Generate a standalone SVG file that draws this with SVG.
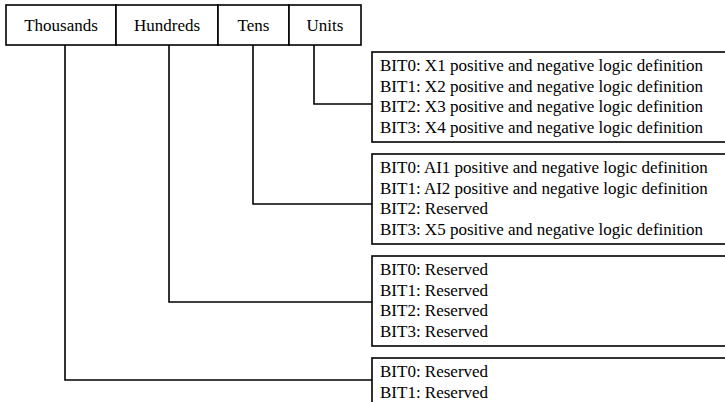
<svg xmlns="http://www.w3.org/2000/svg" width="725" height="402" viewBox="0 0 725 402">
<style>
  text { font-family: "Liberation Serif", "Times New Roman", serif; font-size: 17px; fill: #000; }
  .hdr { text-anchor: middle; }
  .cell { fill: #fff; stroke: #000; stroke-width: 1.6; }
  .box { fill: #fff; stroke: #000; stroke-width: 1.6; }
  .conn { fill: none; stroke: #000; stroke-width: 1.6; }
</style>
<rect width="725" height="402" fill="#fff"/>
<g id="header">
  <g id="thousands"><rect class="cell" x="6" y="5" width="110" height="40"/><text class="hdr" x="61" y="31">Thousands</text></g>
  <g id="hundreds"><rect class="cell" x="116" y="5" width="102" height="40"/><text class="hdr" x="167" y="31">Hundreds</text></g>
  <g id="tens"><rect class="cell" x="218" y="5" width="71" height="40"/><text class="hdr" x="253.5" y="31">Tens</text></g>
  <g id="units"><rect class="cell" x="289" y="5" width="72" height="40"/><text class="hdr" x="325" y="31">Units</text></g>
</g>
<g id="connectors">
  <polyline class="conn" points="314,45 314,104 372,104"/>
  <polyline class="conn" points="253,45 253,204 372,204"/>
  <polyline class="conn" points="169,45 169,302 372,302"/>
  <polyline class="conn" points="65,45 65,380 372,380"/>
</g>
<g id="units-bits">
  <rect class="box" x="372" y="52" width="360" height="90"/>
  <text x="380" y="71">BIT0: X1 positive and negative logic definition</text>
  <text x="380" y="91.5">BIT1: X2 positive and negative logic definition</text>
  <text x="380" y="112">BIT2: X3 positive and negative logic definition</text>
  <text x="380" y="132.5">BIT3: X4 positive and negative logic definition</text>
</g>
<g id="tens-bits">
  <rect class="box" x="372" y="154" width="360" height="90"/>
  <text x="380" y="173">BIT0: AI1 positive and negative logic definition</text>
  <text x="380" y="193.5">BIT1: AI2 positive and negative logic definition</text>
  <text x="380" y="214">BIT2: Reserved</text>
  <text x="380" y="234.5">BIT3: X5 positive and negative logic definition</text>
</g>
<g id="hundreds-bits">
  <rect class="box" x="372" y="256" width="360" height="90"/>
  <text x="380" y="275">BIT0: Reserved</text>
  <text x="380" y="295.5">BIT1: Reserved</text>
  <text x="380" y="316">BIT2: Reserved</text>
  <text x="380" y="336.5">BIT3: Reserved</text>
</g>
<g id="thousands-bits">
  <rect class="box" x="372" y="358" width="360" height="90"/>
  <text x="380" y="377">BIT0: Reserved</text>
  <text x="380" y="397.5">BIT1: Reserved</text>
</g>
</svg>
